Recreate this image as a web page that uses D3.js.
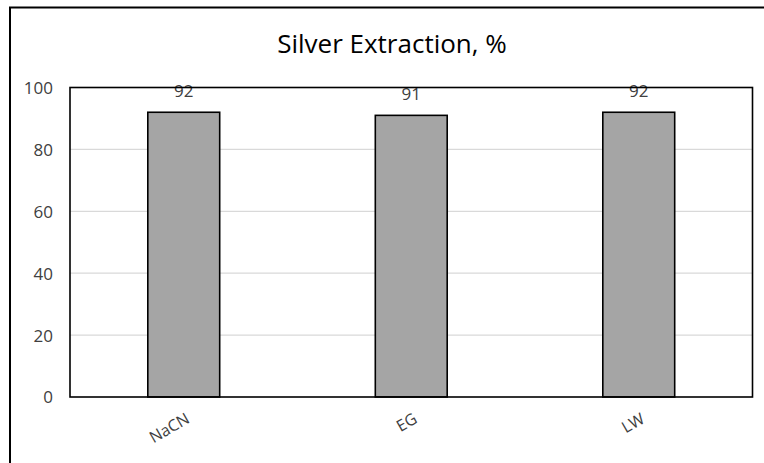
<!DOCTYPE html>
<html>
<head>
<meta charset="utf-8">
<script src="https://cdn.jsdelivr.net/npm/d3@7"></script>
<style>
  html, body { margin: 0; padding: 0; background: #fff; overflow: hidden; }
  svg { display: block; }
  text { font-family: "Open Sans", "Noto Sans", sans-serif; }
</style>
</head>
<body>
<svg id="chart" width="764" height="463"></svg>
<script>
// Silver extraction by leaching agent
const categories = ["NaCN", "EG", "LW"];
const extraction = [92, 91, 92];
const yTicks = [0, 20, 40, 60, 80, 100];
const title = "Silver Extraction, %";

const svg = d3.select("#chart");
const plot = { left: 70, top: 87.5, right: 752.5, bottom: 397 };

// outer chart frame: only its left and top edges fall inside the view
svg.append("path")
  .attr("d", d3.line()([[10, 470], [10, 7.5], [770, 7.5]]))
  .attr("fill", "none").attr("stroke", "#000").attr("stroke-width", 2);

const x = d3.scaleBand()
  .domain(categories)
  .range([plot.left, plot.right])
  .paddingInner(0.684)
  .paddingOuter(0.342);

const y = d3.scaleLinear().domain([0, 100]).range([plot.bottom, plot.top]);

// horizontal gridlines
svg.append("g")
  .selectAll("line")
  .data(yTicks.filter(t => t > 0 && t < 100))
  .join("line")
  .attr("x1", plot.left).attr("x2", plot.right)
  .attr("y1", d => y(d)).attr("y2", d => y(d))
  .attr("stroke", "#d9d9d9").attr("stroke-width", 1.2);

// y axis labels
const yAxis = d3.axisLeft(y).tickValues(yTicks).tickSize(0).tickPadding(17);
const gy = svg.append("g").attr("transform", `translate(${plot.left},0)`).call(yAxis);
gy.select(".domain").remove();
gy.selectAll("text")
  .attr("font-size", 17)
  .attr("fill", "#404040")
  .attr("dy", "0.35em")
  .style("font-family", "\"Open Sans\", sans-serif");

// bars
svg.append("g")
  .selectAll("rect")
  .data(categories)
  .join("rect")
  .attr("x", d => x(d))
  .attr("y", (d, i) => y(extraction[i]))
  .attr("width", x.bandwidth())
  .attr("height", (d, i) => y(0) - y(extraction[i]))
  .attr("fill", "#a5a5a5")
  .attr("stroke", "#000").attr("stroke-width", 1.6);

// value labels
svg.append("g")
  .selectAll("text")
  .data(categories)
  .join("text")
  .attr("x", d => x(d) + x.bandwidth() / 2)
  .attr("y", (d, i) => y(extraction[i]) - 15)
  .attr("text-anchor", "middle")
  .attr("font-size", 17)
  .attr("fill", "#404040")
  .text((d, i) => extraction[i]);

// plot area border (drawn over the labels)
svg.append("rect")
  .attr("x", plot.left).attr("y", plot.top)
  .attr("width", plot.right - plot.left).attr("height", plot.bottom - plot.top)
  .attr("fill", "none").attr("stroke", "#000").attr("stroke-width", 1.6);

// x axis labels, rotated
const xAxis = d3.axisBottom(x).tickSize(0).tickPadding(0);
const gx = svg.append("g").attr("transform", `translate(0,${plot.bottom})`).call(xAxis);
gx.select(".domain").remove();
gx.selectAll("text")
  .attr("font-size", 16)
  .attr("fill", "#404040")
  .attr("text-anchor", "end")
  .attr("dy", null)
  .attr("transform", "translate(7,25) rotate(-30)")
  .style("font-family", "\"Open Sans\", sans-serif");

// title
svg.append("text")
  .attr("x", 392).attr("y", 53)
  .attr("text-anchor", "middle")
  .attr("font-size", 26)
  .attr("fill", "#000")
  .text(title);
</script>
</body>
</html>
